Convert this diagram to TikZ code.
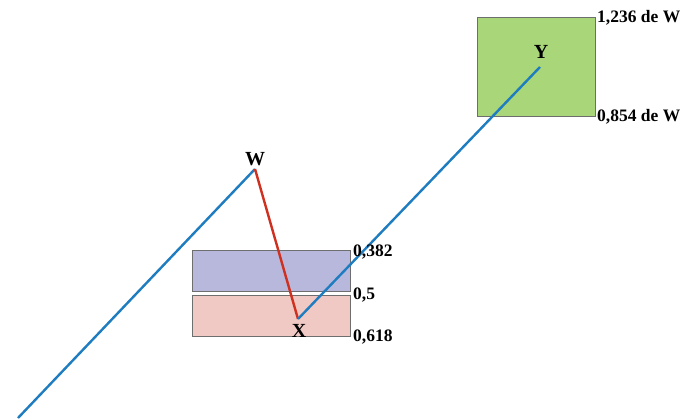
\documentclass[tikz,border=0pt]{standalone}
\usepackage{fontspec}
\setmainfont{Liberation Serif}
\definecolor{lineblue}{RGB}{30,124,192}
\definecolor{linered}{RGB}{208,48,32}
\definecolor{boxpurple}{RGB}{184,184,220}
\definecolor{boxpink}{RGB}{240,200,196}
\definecolor{boxgreen}{RGB}{168,214,120}
\definecolor{boxedge}{RGB}{110,110,110}
\begin{document}
\begin{tikzpicture}[x=1pt,y=-1pt,
  zone/.style={draw=boxedge,line width=0.6pt},
  lvl/.style={anchor=west,font=\bfseries\fontsize{17.5}{19}\selectfont,inner sep=0pt},
  pt/.style={font=\bfseries\fontsize{20}{22}\selectfont,inner sep=0pt},
  wave/.style={line width=2.4pt}]
\useasboundingbox (0,0) rectangle (681,420);
\fill[white] (0,0) rectangle (681,420);
\draw[zone,fill=boxpurple] (192,250) rectangle (350,291);
\draw[zone,fill=boxpink] (192,295) rectangle (350,336);
\draw[zone,fill=boxgreen] (477,17) rectangle (595,116);
\coordinate (S) at (18,418);
\coordinate (W) at (255,169);
\coordinate (X) at (298,319);
\coordinate (Y) at (540,67);
\draw[wave,lineblue] (S) -- (W);
\draw[wave,linered] (W) -- (X);
\draw[wave,lineblue] (X) -- (Y);
\node[pt] (lW) at (255,159) {W};
\node[pt] (lX) at (299,331) {X};
\node[pt] (lY) at (541,52) {Y};
\node[lvl] (l1) at (597,18) {1,236 de W};
\node[lvl] (l2) at (597,117) {0,854 de W};
\node[lvl] (l3) at (353,252) {0,382};
\node[lvl] (l4) at (353,295) {0,5};
\node[lvl] (l5) at (353,337) {0,618};
\end{tikzpicture}
\end{document}
